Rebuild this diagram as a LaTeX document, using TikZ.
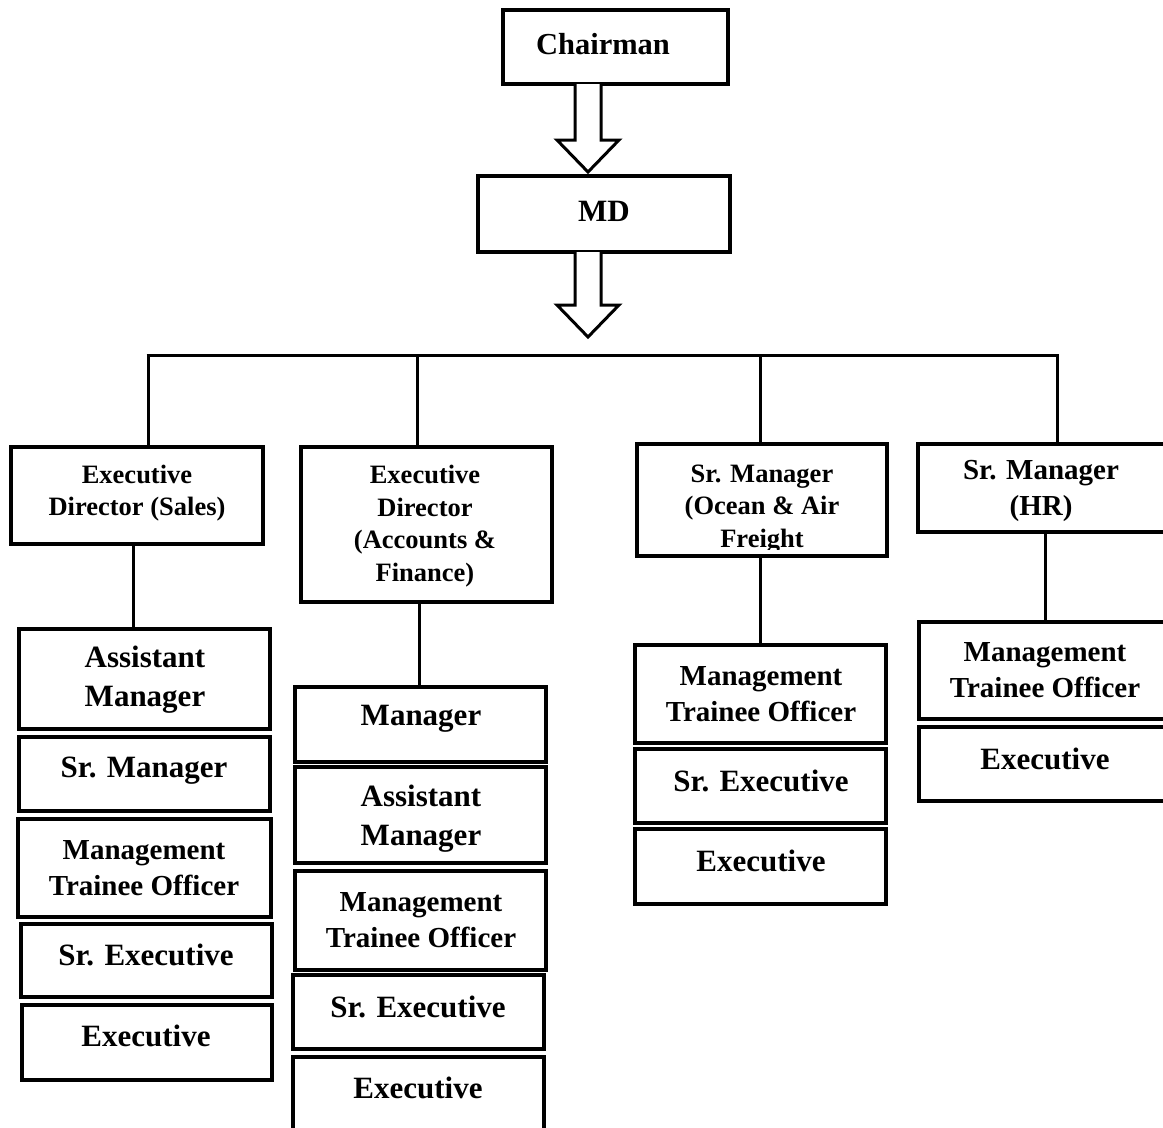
\documentclass[tikz,border=0pt]{standalone}
\usepackage{fontspec}
\setmainfont{Liberation Serif}
\tikzset{
  boxst/.style={draw, line width=3.5pt, rectangle, inner sep=0pt, outer sep=0pt},
  conn/.style={line width=3pt},
  blockarrow/.style={draw, line width=3pt, fill=white, line join=miter},
  txt/.style={align=center, inner sep=0pt},
  big/.style={font=\bfseries\fontsize{31}{39}\selectfont},
  mid/.style={font=\bfseries\fontsize{29}{36}\selectfont},
  small/.style={font=\bfseries\fontsize{26.5}{32.5}\selectfont},
}
\newcommand\obox[5]{\node[boxst, minimum width={#4-#2}, minimum height={#5-#3}] (#1) at ({(#2+#4)/2},{(#3+#5)/2}) {};}
\begin{document}
\begin{tikzpicture}[x=1pt,y=-1pt]
\clip (0,0) rectangle (1163,1128);
\fill[white] (0,0) rectangle (1163,1128);

% top boxes
\obox{Chair}{503}{10}{728}{84}
\node[txt, font=\bfseries\fontsize{30.5}{37}\selectfont] (tChair) at (603,44) {Chairman};
\obox{MD}{478}{176}{730}{252}
\node[txt, big] (tMD) at (604,211) {MD};

% block arrows
\draw[blockarrow] (575,84) -- (575,140) -- (557,140) -- (588,172) -- (619,140) -- (601,140) -- (601,84);
\draw[blockarrow] (575,252) -- (575,305) -- (557,305) -- (588,337) -- (619,305) -- (601,305) -- (601,252);

% second level
\obox{EDS}{11}{447}{263}{544}
\node[txt, small] (tEDS) at (137,493) {Executive\\Director (Sales)};
\obox{EDA}{301}{447}{552}{602}
\node[txt, small] (tEDA) at (425,526) {Executive\\Director\\(Accounts \&\\Finance)};
\obox{SMO}{637}{444}{887}{556}
\begin{scope}
  \clip (639,446) rectangle (885,549);
  \node[txt, small] (tSMO) at (762,509) {Sr. Manager\\(Ocean \& Air\\Freight};
\end{scope}
\obox{SMH}{918}{444}{1175}{532}
\node[txt, mid] (tSMH) at (1041,491) {Sr. Manager\\(HR)};

% bus
\coordinate (b1) at (148,355);
\coordinate (b2) at (417,355);
\coordinate (b3) at (760,355);
\coordinate (b4) at (1057,355);
\draw[conn] ([xshift=-1.5pt]b1) -- ([xshift=1.5pt]b4);
\draw[conn] (b1) -- (b1 |- EDS.north);
\draw[conn] (b2) -- (b2 |- EDA.north);
\draw[conn] (b3) -- (b3 |- SMO.north);
\draw[conn] (b4) -- (b4 |- SMH.north);

% column 1
\obox{AM1}{19}{629}{270}{729}
\node[txt, big] (tAM1) at (145,680) {Assistant\\Manager};
\obox{SM1}{19}{737}{270}{811}
\node[txt, big] (tSM1) at (144,771) {Sr. Manager};
\obox{MTO1}{18}{819}{271}{917}
\node[txt, mid] (tMTO1) at (144,868) {Management\\Trainee Officer};
\obox{SE1}{21}{924}{272}{997}
\node[txt, big] (tSE1) at (146,955) {Sr. Executive};
\obox{E1}{22}{1005}{272}{1080}
\node[txt, big] (tE1) at (146,1036) {Executive};
\coordinate (v1) at (133,0);
\draw[conn] (v1 |- EDS.south) -- (v1 |- AM1.north);

% column 2
\obox{M2}{295}{687}{546}{762}
\node[txt, big] (tM2) at (421,719) {Manager};
\obox{AM2}{295}{767}{546}{863}
\node[txt, big] (tAM2) at (421,819) {Assistant\\Manager};
\obox{MTO2}{295}{871}{546}{970}
\node[txt, mid] (tMTO2) at (421,920) {Management\\Trainee Officer};
\obox{SE2}{293}{975}{544}{1049}
\node[txt, big] (tSE2) at (418,1007) {Sr. Executive};
\obox{E2}{293}{1057}{544}{1140}
\node[txt, big] (tE2) at (418,1088) {Executive};
\coordinate (v2) at (419,0);
\draw[conn] (v2 |- EDA.south) -- (v2 |- M2.north);

% column 3
\obox{MTO3}{635}{645}{886}{743}
\node[txt, mid] (tMTO3) at (761,694) {Management\\Trainee Officer};
\obox{SE3}{635}{749}{886}{823}
\node[txt, big] (tSE3) at (761,781) {Sr. Executive};
\obox{E3}{635}{829}{886}{904}
\node[txt, big] (tE3) at (761,861) {Executive};
\coordinate (v3) at (760,0);
\draw[conn] (v3 |- SMO.south) -- (v3 |- MTO3.north);

% column 4
\obox{MTO4}{919}{622}{1175}{719}
\node[txt, mid] (tMTO4) at (1045,670) {Management\\Trainee Officer};
\obox{E4}{919}{727}{1175}{801}
\node[txt, big] (tE4) at (1045,759) {Executive};
\coordinate (v4) at (1045,0);
\draw[conn] (v4 |- SMH.south) -- (v4 |- MTO4.north);
\end{tikzpicture}
\end{document}
